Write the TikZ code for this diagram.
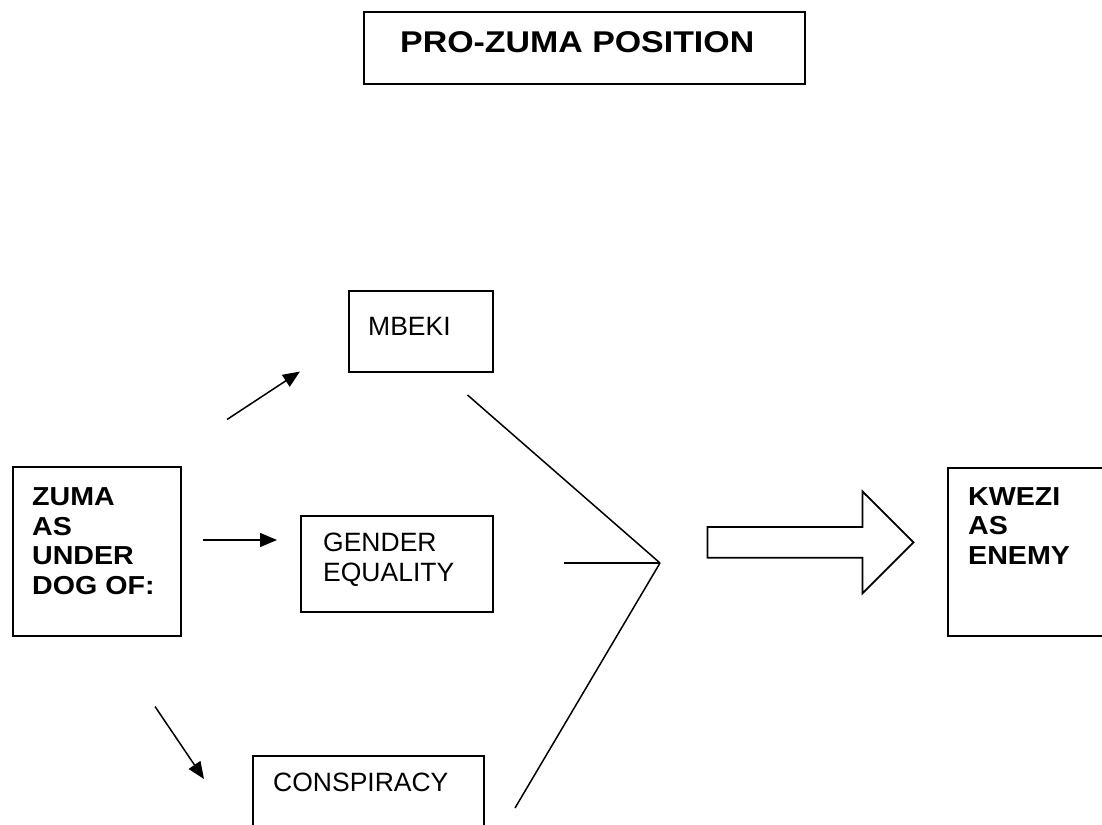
\documentclass[tikz,border=0pt]{standalone}
\usepackage{fontspec}
\setmainfont{Liberation Sans}
\newfontfamily\bodybold{Liberation Sans}[FakeStretch=1.1]
\newfontfamily\titlebold{Liberation Sans}[FakeStretch=1.13]
\usetikzlibrary{arrows.meta}
\begin{document}
\begin{tikzpicture}[x=1pt,y=-1pt,
  box/.style={draw, line width=1.7pt, inner sep=0pt, anchor=north west},
  boldtext/.style={anchor=base west, inner sep=0pt, align=left,
    font=\bodybold\bfseries\fontsize{26}{29.5}\selectfont},
  plaintext/.style={anchor=base west, inner sep=0pt, align=left,
    font=\fontsize{26.5}{30}\selectfont},
  conn/.style={line width=1.5pt, -{Triangle[length=17pt,width=14pt]}},
  ray/.style={line width=1.5pt}]
\useasboundingbox (0,0) rectangle (1102,824);
\clip (0,0) rectangle (1102,824);
% title
\node[box, minimum width=441pt, minimum height=72pt] (title) at (363,11) {};
\node[anchor=base west, inner sep=0pt, font=\titlebold\bfseries\fontsize{30}{34}\selectfont] (titletext) at (400,53) {PRO-ZUMA POSITION};
% left box (base anchor = baseline of the last line)
\node[box, minimum width=168pt, minimum height=169pt] (zuma) at (12,466) {};
\node[boldtext] (zumatext) at (32,594) {ZUMA\\AS\\UNDER\\DOG OF:};
% middle boxes
\node[box, minimum width=144pt, minimum height=81pt] (mbeki) at (348,290) {};
\node[plaintext] (mbekitext) at (368,335) {MBEKI};
\node[box, minimum width=192pt, minimum height=96pt] (gender) at (300,515) {};
\node[plaintext] (gendertext) at (323,581.5) {GENDER\\EQUALITY};
\node[box, minimum width=231pt, minimum height=100pt] (consp) at (252,755) {};
\node[plaintext] (consptext) at (273,791) {CONSPIRACY};
% right box
\node[box, minimum width=170pt, minimum height=168pt] (kwezi) at (947,467) {};
\node[boldtext] (kwezitext) at (968,564) {KWEZI\\AS\\ENEMY};
% arrows
\coordinate (a1s) at (227,419.5);
\coordinate (a1e) at (300,371.5);
\coordinate (a2s) at (203,540);
\coordinate (a2e) at (277,540);
\coordinate (a3s) at (155,706.5);
\coordinate (a3e) at (204,779);
\draw[conn] (a1s) -- (a1e);
\draw[conn] (a2s) -- (a2e);
\draw[conn] (a3s) -- (a3e);
% converging lines
\coordinate (v) at (660,563);
\coordinate (r1) at (467.5,395);
\coordinate (r2) at (563.5,563);
\coordinate (r3) at (515,808);
\draw[ray] (r1) -- (v);
\draw[ray] (r2) -- (v);
\draw[ray] (r3) -- (v);
% big hollow arrow
\draw[line width=1.8pt, line join=miter] (707.5,527) -- (862.5,527) -- (862.5,491.5) -- (913.5,542.3) -- (862.5,593.3) -- (862.5,557.7) -- (707.5,557.7) -- cycle;
\end{tikzpicture}
\end{document}
